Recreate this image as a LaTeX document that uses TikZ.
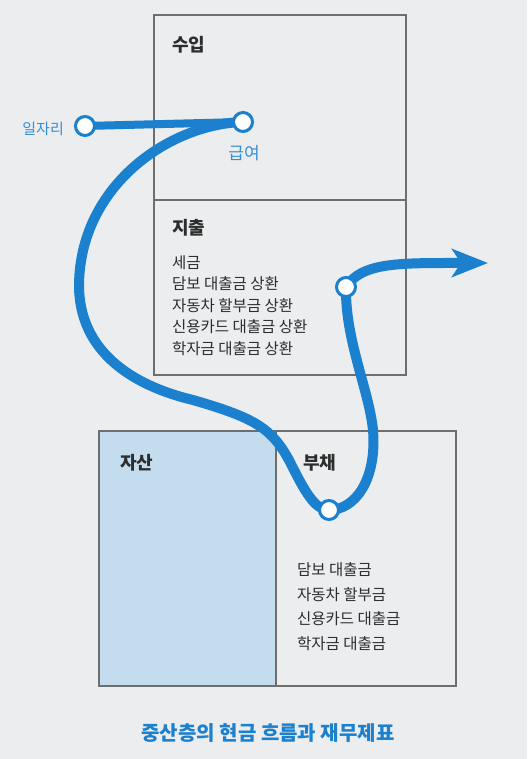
\documentclass[tikz,border=0pt]{standalone}
\usepackage{fontspec}
\setmainfont{Noto Sans CJK KR}
\usetikzlibrary{arrows.meta}
\definecolor{bg}{RGB}{236,237,238}
\definecolor{flow}{RGB}{27,128,206}
\definecolor{flowtext}{RGB}{52,142,210}
\definecolor{asset}{RGB}{196,221,238}
\definecolor{frame}{RGB}{110,110,110}
\definecolor{ink}{RGB}{45,45,45}
\begin{document}
\begin{tikzpicture}[x=1pt,y=-1pt,
  box/.style={draw=frame,line width=1.6pt,inner sep=0pt,anchor=north west},
  head/.style={font=\fontsize{18}{20}\selectfont\bfseries,text=ink,anchor=west,inner sep=0pt},
  item/.style={font=\fontsize{15.5}{17}\selectfont,text=ink,anchor=west,inner sep=0pt},
  lbl/.style={text=flowtext,inner sep=0pt},
  flowline/.style={draw=flow,line width=10pt},
  dot/.style={circle,draw=flow,fill=white,line width=3pt,minimum size=19pt,inner sep=0pt}]
\fill[bg] (0,0) rectangle (527,759);
\useasboundingbox (0,0) rectangle (527,759);
% boxes
\node[box,fill=bg,minimum width=252pt,minimum height=185pt] (income) at (153,14) {};
\node[box,fill=bg,minimum width=252pt,minimum height=175pt] (expense) at (153,199) {};
\node[box,fill=asset,minimum width=177pt,minimum height=255pt] (assets) at (98,430) {};
\node[box,fill=bg,minimum width=180pt,minimum height=255pt] (debts) at (275,430) {};
% texts
\node[head] (tin) at (172,45) {수입};
\node[head] (tex) at (172,228) {지출};
\node[item] (e1) at (172,263) {세금};
\node[item] (e2) at (172,284) {담보 대출금 상환};
\node[item] (e3) at (172,305.5) {자동차 할부금 상환};
\node[item] (e4) at (172,327) {신용카드 대출금 상환};
\node[item] (e5) at (172,348.5) {학자금 대출금 상환};
\node[head] (tas) at (120,463) {자산};
\node[head] (tde) at (303,463) {부채};
\node[item] (d1) at (297,570) {담보 대출금};
\node[item] (d2) at (297,594.5) {자동차 할부금};
\node[item] (d3) at (297,619) {신용카드 대출금};
\node[item] (d4) at (297,643.5) {학자금 대출금};
% flow coordinates
\coordinate (job) at (85,126);
\coordinate (pay) at (243,122);
\coordinate (debtdot) at (329,510);
\coordinate (spend) at (346,287);
\coordinate (out) at (488,263);
% flow lines
\draw[flowline,line width=8pt] (job) -- (pay);
\draw[flowline] (pay) .. controls (170,124) and (80,185) .. (79,285)
   .. controls (79,350) and (130,385) .. (193,400)
   .. controls (255,418) and (272,428) .. (290,462)
   .. controls (305,492) and (315,510) .. (debtdot)
   .. controls (355,510) and (377,480) .. (373,430)
   .. controls (369,390) and (345,340) .. (spend);
\draw[flowline,-{Stealth[length=36pt,width=28pt,inset=9pt]}] (spend) .. controls (362,262) and (400,263) .. (out);
% dots
\node[dot] (jobdot) at (job) {};
\node[dot] (paydot) at (pay) {};
\node[dot] (spenddot) at (spend) {};
\node[dot] (ddot) at (debtdot) {};
% labels
\node[lbl,font=\fontsize{15}{17}\selectfont,anchor=east] (tjob) at (64,129) {일자리};
\node[lbl,font=\fontsize{17}{19}\selectfont] (tpay) at (244,153) {급여};
\node[text=flow,font=\fontsize{20}{22}\selectfont\bfseries] (title) at (268,733) {중산층의 현금 흐름과 재무제표};
\end{tikzpicture}
\end{document}
